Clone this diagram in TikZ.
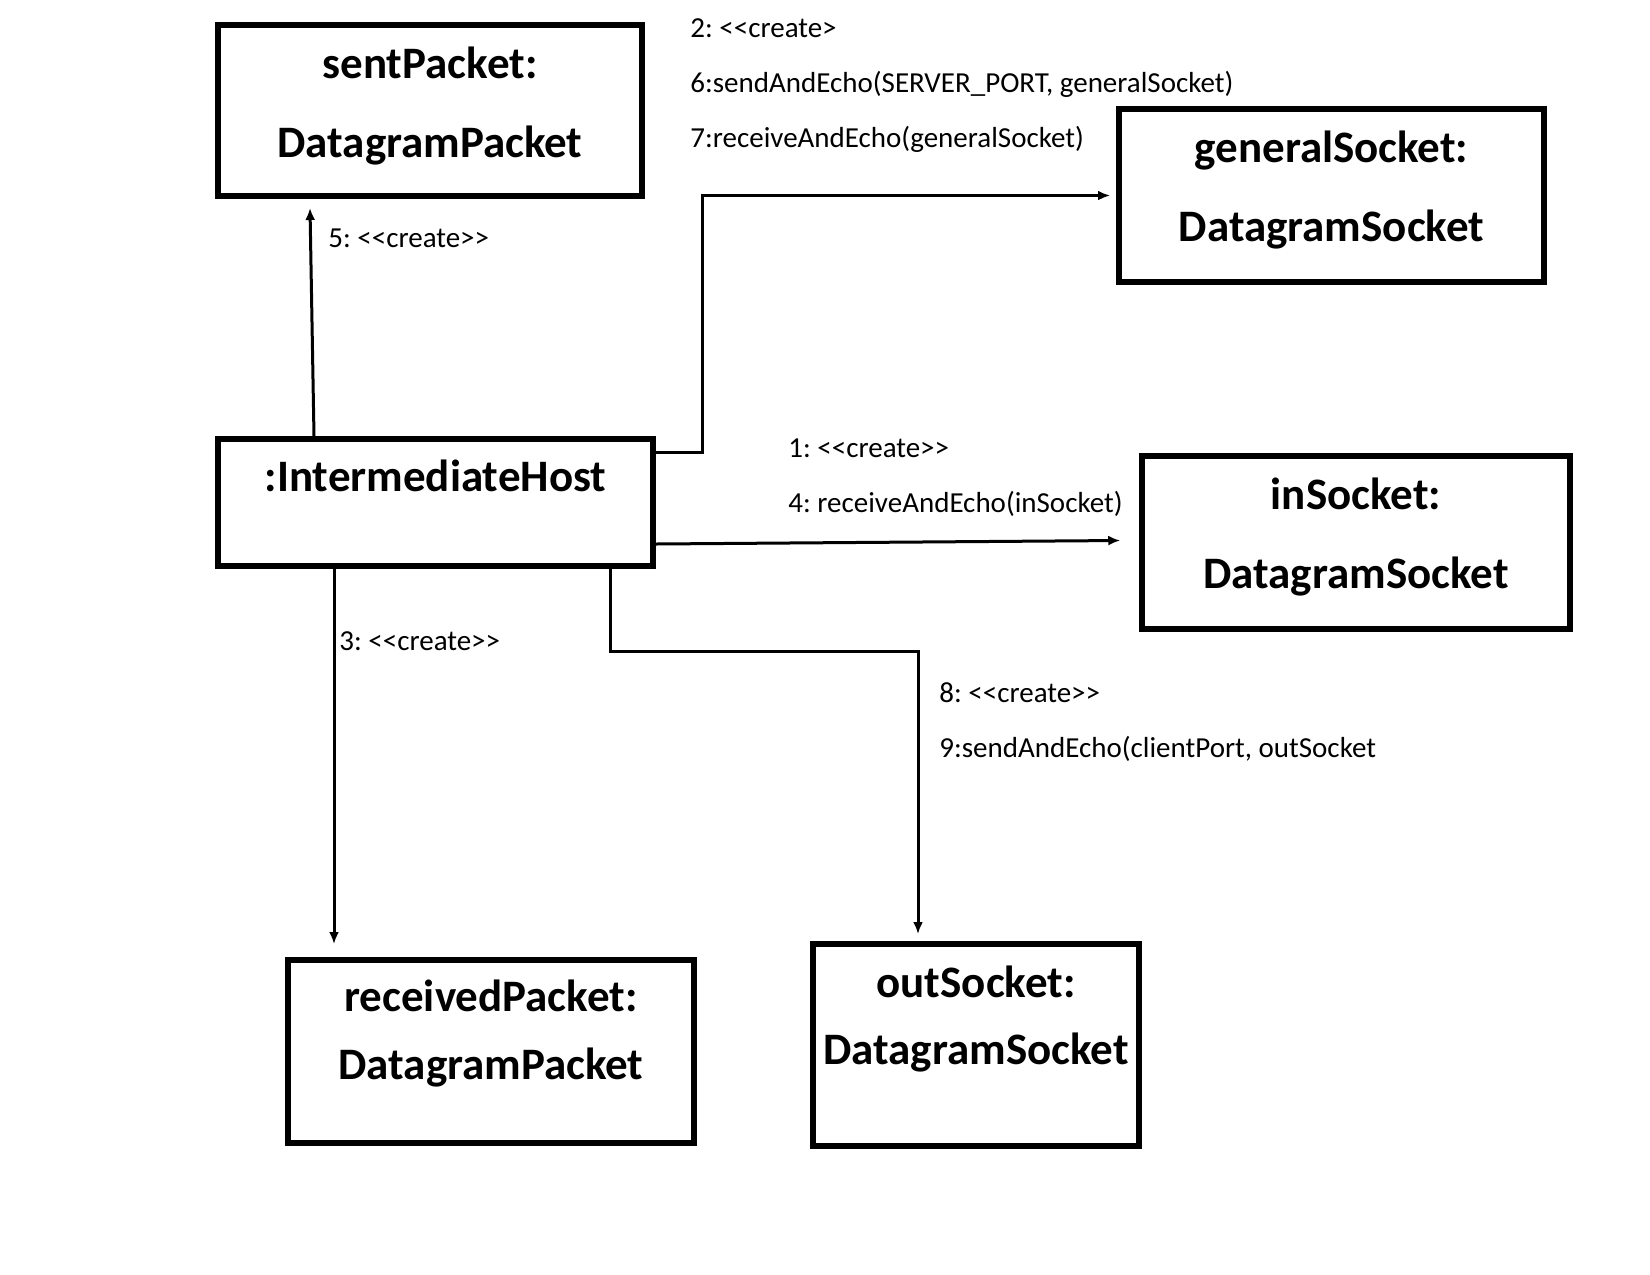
\documentclass[tikz,border=0pt]{standalone}
\usepackage{fontspec}
\setmainfont{Carlito}
\usetikzlibrary{arrows.meta}
\usetikzlibrary{calc}

\tikzset{
	objbox/.style={draw, line width=3pt, rectangle, inner sep=0pt},
	objname/.style={anchor=base, inner sep=0pt, font=\fontsize{22.5}{27}\selectfont\bfseries},
	msgtext/.style={anchor=base west, inner sep=0pt, font=\fontsize{14.5}{17}\selectfont\frenchspacing},
	msg/.style={line width=1.5pt, -{Latex[length=6pt, width=5pt]}},
}
\newcommand{\stereo}[1]{<\kern0pt<#1>\kern0pt>}

\begin{document}
\begin{tikzpicture}[x=0.5pt, y=-0.5pt]
				\fill[white] (0,0) rectangle (1650,1275);
				\useasboundingbox (0,0) rectangle (1650,1275);
				
				% objects
				\node[objbox, minimum width=212pt, minimum height=85.5pt] (sent) at (430,110.5) {};
				\node[objbox, minimum width=212.5pt, minimum height=86.5pt] (general) at (1331.5,195.5) {};
				\node[objbox, minimum width=217.5pt, minimum height=63.5pt] (host) at (435.5,502.5) {};
				\node[objbox, minimum width=213.75pt, minimum height=86.5pt] (in) at (1356,542.5) {};
				\node[objbox, minimum width=203pt, minimum height=91.5pt] (recv) at (491,1051.5) {};
				\node[objbox, minimum width=163pt, minimum height=101pt] (out) at (976,1045) {};
				
				\node[objname] (sent-a) at ($(sent.north)+(0,56)$) {sentPacket:};
				\node[objname] (sent-b) at ($(sent.north)+(0,135)$) {DatagramPacket};
				\node[objname] (general-a) at ($(general.north)+(0,56)$) {generalSocket:};
				\node[objname] (general-b) at ($(general.north)+(0,135)$) {DatagramSocket};
				\node[objname] (host-a) at ($(host.north)+(0,55)$) {:IntermediateHost};
				\node[objname] (in-a) at ($(in.north)+(0,56)$) {inSocket:};
				\node[objname] (in-b) at ($(in.north)+(0,135)$) {DatagramSocket};
				\node[objname] (recv-a) at ($(recv.north)+(0,54)$) {receivedPacket:};
				\node[objname] (recv-b) at ($(recv.north)+(0,122)$) {DatagramPacket};
				\node[objname] (out-a) at ($(out.north)+(0,56)$) {outSocket:};
				\node[objname] (out-b) at ($(out.north)+(0,123)$) {DatagramSocket};
				
				% links
				\draw[msg] ($(host.north west)+(99,0)$) -- ($(sent.south west)+(95,9)$);
				\draw[msg] ($(host.north east)+(0,16)$) -| ($(general.west)+(-414,0)$) -- ($(general.west)+(-6,0)$);
				\draw[msg] ($(host.south east)+(0,-25)$) -- ($(in.west)+(-19,-2)$);
				\draw[msg] ($(host.south west)+(119,0)$) -- ($(recv.north west)+(49,-13)$);
				\draw[msg] ($(host.south west)+(395,0)$) |- ($(out.north west)+(108,-290)$) -- ($(out.north west)+(108,-7)$);
				
				% messages
				\node[msgtext] (m2) at (690,37) {2: <\kern0pt<create>};
				\node[msgtext] (m6) at (690,92) {6:sendAndEcho(SERVER\_PORT, generalSocket)};
				\node[msgtext] (m7) at (690,147) {7:receiveAndEcho(generalSocket)};
				\node[msgtext] (m5) at (328,247) {5: \stereo{create}};
				\node[msgtext] (m1) at (788,457) {1: \stereo{create}};
				\node[msgtext] (m4) at (788,512) {4: receiveAndEcho(inSocket)};
				\node[msgtext] (m3) at (339,650) {3: \stereo{create}};
				\node[msgtext] (m8) at (939,702) {8: \stereo{create}};
				\node[msgtext] (m9) at (939,757) {9:sendAndEcho(clientPort, outSocket};
\end{tikzpicture}
\end{document}
